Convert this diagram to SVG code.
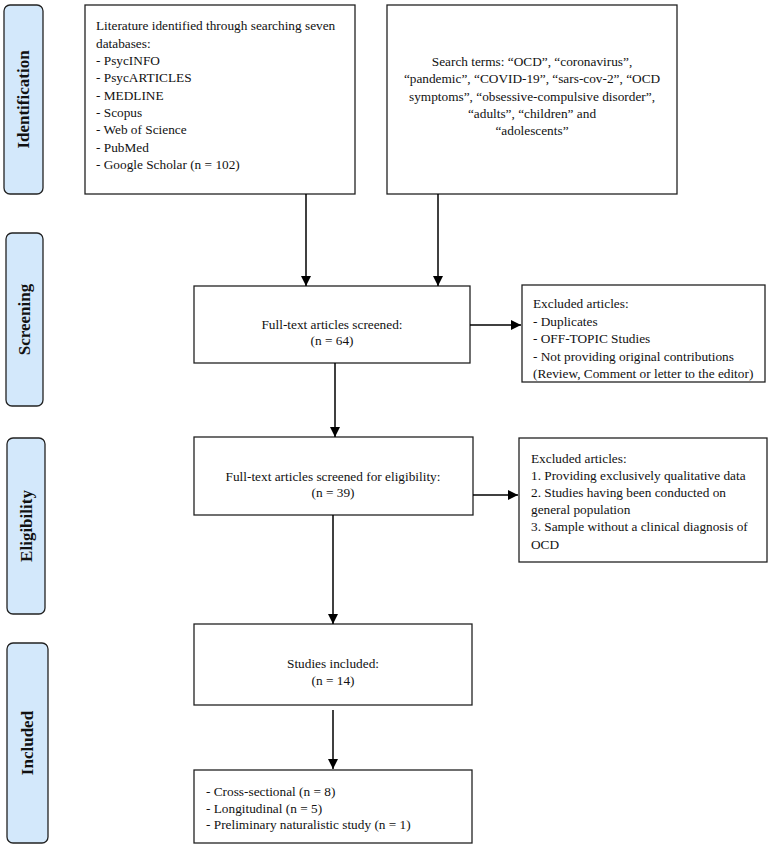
<svg xmlns="http://www.w3.org/2000/svg" width="771" height="850" viewBox="0 0 771 850">
<defs>
<marker id="ah" viewBox="0 0 10 10" refX="10" refY="5" markerWidth="10" markerHeight="10" markerUnits="userSpaceOnUse" orient="auto">
<path d="M0,0 L10,5 L0,10 z" fill="#000"/>
</marker>
<style>
.box{fill:#fff;stroke:#222;stroke-width:1.3}
.stage{fill:#d3e8fb;stroke:#222;stroke-width:1.3}
.t{font-family:"Liberation Serif","Times New Roman",serif;font-size:13.3px;fill:#111}
.c{text-anchor:middle}
.lab{font-family:"Liberation Serif","Times New Roman",serif;font-size:17px;font-weight:bold;fill:#111;text-anchor:middle}
.con{stroke:#000;stroke-width:1.5;fill:none;marker-end:url(#ah)}
</style>
</defs>
<rect width="771" height="850" fill="#fff"/>

<g id="stage-identification">
<rect class="stage" x="4" y="5" width="39" height="189" rx="6"/>
<text class="lab" transform="translate(29,99.5) rotate(-90)">Identification</text>
</g>
<g id="stage-screening">
<rect class="stage" x="6" y="233" width="37" height="173" rx="6"/>
<text class="lab" transform="translate(30,319.5) rotate(-90)">Screening</text>
</g>
<g id="stage-eligibility">
<rect class="stage" x="7" y="438" width="38" height="176" rx="6"/>
<text class="lab" transform="translate(32,526) rotate(-90)">Eligibility</text>
</g>
<g id="stage-included">
<rect class="stage" x="7" y="643" width="41" height="200" rx="6"/>
<text class="lab" transform="translate(33,743) rotate(-90)">Included</text>
</g>

<g id="databases">
<rect class="box" x="85" y="5" width="270" height="189"/>
<text class="t" x="96" y="30">Literature identified through searching seven</text>
<text class="t" x="96" y="47.5">databases:</text>
<text class="t" x="96" y="65">- PsycINFO</text>
<text class="t" x="96" y="82.3">- PsycARTICLES</text>
<text class="t" x="96" y="99.6">- MEDLINE</text>
<text class="t" x="96" y="117">- Scopus</text>
<text class="t" x="96" y="134.3">- Web of Science</text>
<text class="t" x="96" y="151.6">- PubMed</text>
<text class="t" x="96" y="169">- Google Scholar (n = 102)</text>
</g>

<g id="search-terms">
<rect class="box" x="387" y="5" width="290" height="189"/>
<text class="t c" x="532" y="66">Search terms: “OCD”, “coronavirus”,</text>
<text class="t c" x="532" y="83.3">“pandemic”, “COVID-19”, “sars-cov-2”, “OCD</text>
<text class="t c" x="532" y="100.6">symptoms”, “obsessive-compulsive disorder”,</text>
<text class="t c" x="532" y="117.9">“adults”, “children” and</text>
<text class="t c" x="532" y="135.2">“adolescents”</text>
</g>

<g id="screened">
<rect class="box" x="194" y="286" width="276" height="77"/>
<text class="t c" x="332" y="329">Full-text articles screened:</text>
<text class="t c" x="332" y="345">(n = 64)</text>
</g>

<g id="excluded-1">
<rect class="box" x="522" y="285" width="243" height="97"/>
<text class="t" x="533" y="308">Excluded articles:</text>
<text class="t" x="533" y="325.5">- Duplicates</text>
<text class="t" x="533" y="343">- OFF-TOPIC Studies</text>
<text class="t" x="533" y="360.5">- Not providing original contributions</text>
<text class="t" x="533" y="378">(Review, Comment or letter to the editor)</text>
</g>

<g id="eligibility">
<rect class="box" x="194" y="437" width="279" height="78"/>
<text class="t c" x="333" y="481">Full-text articles screened for eligibility:</text>
<text class="t c" x="333" y="497">(n = 39)</text>
</g>

<g id="excluded-2">
<rect class="box" x="519" y="438" width="248" height="124"/>
<text class="t" x="531" y="463">Excluded articles:</text>
<text class="t" x="531" y="480">1. Providing exclusively qualitative data</text>
<text class="t" x="531" y="497">2. Studies having been conducted on</text>
<text class="t" x="531" y="514">general population</text>
<text class="t" x="531" y="531">3. Sample without a clinical diagnosis of</text>
<text class="t" x="531" y="548.5">OCD</text>
</g>

<g id="included">
<rect class="box" x="194" y="624" width="278" height="81"/>
<text class="t c" x="333" y="668">Studies included:</text>
<text class="t c" x="333" y="685">(n = 14)</text>
</g>

<g id="study-types">
<rect class="box" x="194" y="770" width="278" height="73"/>
<text class="t" x="206" y="796">- Cross-sectional (n = 8)</text>
<text class="t" x="206" y="812.5">- Longitudinal (n = 5)</text>
<text class="t" x="206" y="829">- Preliminary naturalistic study (n = 1)</text>
</g>

<g id="connectors">
<line class="con" x1="306" y1="194" x2="306" y2="286"/>
<line class="con" x1="438" y1="194" x2="438" y2="286"/>
<line class="con" x1="470" y1="325" x2="521" y2="325"/>
<line class="con" x1="335" y1="363" x2="335" y2="437"/>
<line class="con" x1="473" y1="495" x2="518" y2="495"/>
<line class="con" x1="333" y1="515" x2="333" y2="624"/>
<line class="con" x1="333" y1="710" x2="333" y2="769"/>
</g>
</svg>
